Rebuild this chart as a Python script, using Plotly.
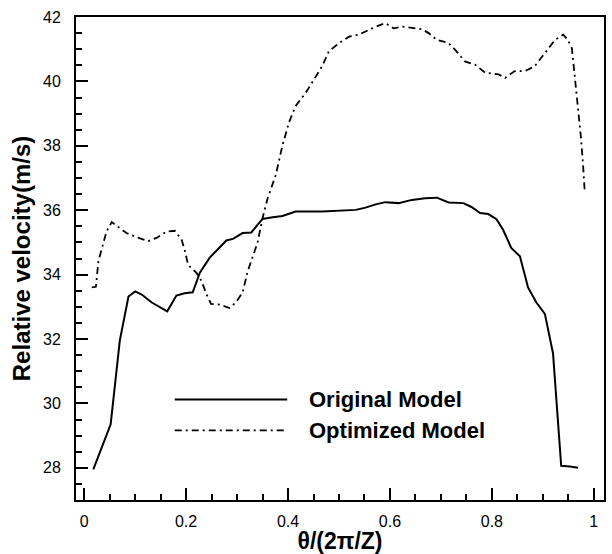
import plotly.graph_objects as go

# Original Model (solid)
orig_x = [0.018, 0.052, 0.070, 0.087, 0.100, 0.113, 0.132, 0.163, 0.181, 0.197, 0.213,
          0.227, 0.246, 0.262, 0.279, 0.292, 0.311, 0.328, 0.350, 0.370, 0.389, 0.415,
          0.467, 0.533, 0.552, 0.572, 0.591, 0.617, 0.643, 0.669, 0.692, 0.715, 0.744,
          0.760, 0.777, 0.793, 0.809, 0.822, 0.838, 0.855, 0.871, 0.887, 0.904, 0.920,
          0.936, 0.953, 0.969]
orig_y = [27.95, 29.35, 31.96, 33.32, 33.48, 33.38, 33.14, 32.86, 33.35, 33.42, 33.45,
          34.06, 34.52, 34.78, 35.06, 35.11, 35.29, 35.31, 35.73, 35.78, 35.82, 35.96,
          35.96, 36.01, 36.08, 36.18, 36.25, 36.22, 36.32, 36.37, 36.39, 36.24, 36.22,
          36.10, 35.91, 35.88, 35.72, 35.39, 34.83, 34.57, 33.60, 33.14, 32.78, 31.55,
          28.06, 28.04, 28.00]

# Optimized Model (dash-dot)
opt_x = [0.015, 0.023, 0.028, 0.035, 0.044, 0.054, 0.070, 0.083, 0.103, 0.126, 0.142,
         0.162, 0.178, 0.191, 0.197, 0.204, 0.220, 0.230, 0.240, 0.249, 0.266, 0.285,
         0.298, 0.311, 0.321, 0.331, 0.340, 0.350, 0.360, 0.376, 0.389, 0.402, 0.415,
         0.435, 0.455, 0.467, 0.480, 0.500, 0.520, 0.539, 0.559, 0.572, 0.591, 0.607,
         0.624, 0.643, 0.663, 0.676, 0.692, 0.715, 0.728, 0.747, 0.767, 0.787, 0.813,
         0.826, 0.845, 0.865, 0.884, 0.904, 0.924, 0.940, 0.949, 0.957, 0.962, 0.969,
         0.975, 0.979, 0.982]
opt_y = [33.60, 33.62, 34.42, 34.83, 35.34, 35.63, 35.45, 35.29, 35.16, 35.04, 35.14,
         35.34, 35.36, 35.09, 34.78, 34.30, 34.06, 33.81, 33.39, 33.09, 33.07, 32.96,
         33.14, 33.45, 34.11, 34.57, 34.98, 35.75, 36.37, 37.09, 38.01, 38.73, 39.24,
         39.65, 40.16, 40.47, 40.93, 41.19, 41.39, 41.45, 41.60, 41.70, 41.81, 41.65,
         41.70, 41.65, 41.62, 41.50, 41.29, 41.19, 40.98, 40.62, 40.52, 40.27, 40.22,
         40.11, 40.32, 40.32, 40.47, 40.88, 41.29, 41.45, 41.29, 41.03, 40.27, 39.24,
         38.22, 37.39, 36.62]

series_names = ["Original Model", "Optimized Model"]

x_ticks = [0, 0.2, 0.4, 0.6, 0.8, 1]
x_ticktext = ["0", "0.2", "0.4", "0.6", "0.8", "1"]
y_ticks = [28, 30, 32, 34, 36, 38, 40, 42]

FONT = "Liberation Sans, Arial, sans-serif"
DASHDOT = "7px,4px,2px,4px"

fig = go.Figure()
fig.add_trace(go.Scatter(x=orig_x, y=orig_y, mode="lines", name=series_names[0],
                         line=dict(color="black", width=2), showlegend=False))
fig.add_trace(go.Scatter(x=opt_x, y=opt_y, mode="lines", name=series_names[1],
                         line=dict(color="black", width=1.8, dash=DASHDOT), showlegend=False))

# manual legend (long line samples like the reference)
leg_items = [(series_names[0], "solid", 0.208, 2), (series_names[1], DASHDOT, 0.144, 1.8)]
for name, dash, yy, w in leg_items:
    fig.add_shape(type="line", xref="paper", yref="paper", x0=0.187, x1=0.40, y0=yy, y1=yy,
                  line=dict(color="black", width=w, dash=dash))
    fig.add_annotation(xref="paper", yref="paper", x=0.438, y=yy, text=name, showarrow=False,
                       xanchor="left", yanchor="middle",
                       font=dict(family=FONT, size=22, color="black", weight="bold"))

axis_common = dict(
    showline=True, linecolor="black", linewidth=2, mirror=True,
    ticks="inside", tickcolor="black", tickwidth=2, ticklen=12,
    showgrid=False, zeroline=False,
    tickfont=dict(family=FONT, size=16, color="black"),
)

fig.update_xaxes(
    range=[-0.016, 1.02], tickvals=x_ticks, ticktext=x_ticktext,
    minor=dict(ticks="inside", dtick=0.05, tick0=0, ticklen=6, tickwidth=1.5, tickcolor="black", showgrid=False),
    title=dict(text="θ/(2π/Z)", font=dict(family=FONT, size=23, color="black", weight="bold"), standoff=2),
    ticklabelstandoff=6,
    **axis_common,
)
fig.update_yaxes(
    range=[27, 42], tickvals=y_ticks,
    minor=dict(ticks="inside", dtick=0.5, tick0=27, ticklen=6, tickwidth=1.5, tickcolor="black", showgrid=False),
    title=dict(text="Relative velocity(m/s)", font=dict(family=FONT, size=24, color="black", weight="bold"), standoff=6),
    ticklabelstandoff=10,
    **axis_common,
)

fig.update_layout(
    width=612, height=554,
    margin=dict(l=76, r=6, t=17, b=51),
    paper_bgcolor="white", plot_bgcolor="white",
    showlegend=False,
)

fig.write_html("out.html")
